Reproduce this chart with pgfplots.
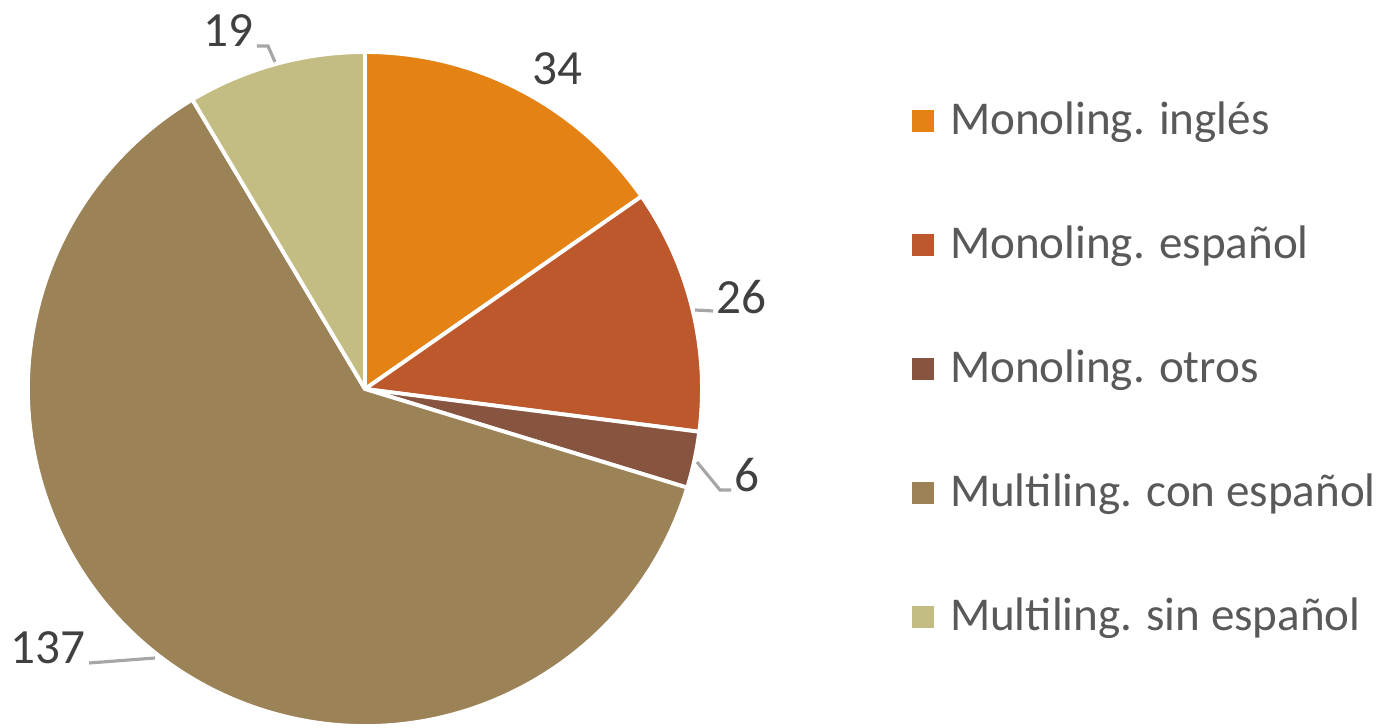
\documentclass[border=0pt]{standalone}
\usepackage{fontspec}
\setmainfont{Carlito}
\usepackage{pgfplots}
\usepackage{pgfplotstable}
\pgfplotsset{compat=1.18}

\definecolor{c0}{HTML}{E48213}
\definecolor{c1}{HTML}{BC582B}
\definecolor{c2}{HTML}{87553F}
\definecolor{c3}{HTML}{9C8257}
\definecolor{c4}{HTML}{C4BD83}
\definecolor{labeltext}{HTML}{404040}
\definecolor{legendtext}{HTML}{595959}
\definecolor{leader}{HTML}{A6A6A6}

% slices, clockwise from 12 o'clock
\pgfplotstableread[col sep=comma]{
name,value
Monoling. inglés,34
Monoling. español,26
Monoling. otros,6
Multiling. con español,137
Multiling. sin español,19
}\piedata

\begin{document}
\begin{tikzpicture}
\begin{axis}[
    width=13.82cm, height=7.27cm, scale only axis,
    xmin=0, xmax=1382, ymin=0, ymax=727,
    enlargelimits=false,
    hide axis, clip=false,
    legend style={
        at={(axis cs:912,627)}, anchor=north west,
        draw=none, fill=none, inner sep=0pt, outer sep=0pt,
        font=\fontsize{13.4}{15}\selectfont, text=legendtext,
        row sep=0.768cm,
        nodes={inner sep=0pt, text height=0.35cm, text depth=0.12cm},
    },
    legend cell align=left,
    legend image code/.code={
        \path[#1] (0cm,-0.09cm) rectangle (0.22cm,0.13cm);
        \path (0.38cm,0cm);
    },
]
% total of the values
\def\total{0}
\pgfplotsforeachungrouped \i in {0,...,4}{%
    \pgfplotstablegetelem{\i}{value}\of\piedata
    \pgfmathsetmacro\total{\total+\pgfplotsretval}%
}
% slices
\def\cum{0}
\pgfplotsforeachungrouped \i in {0,...,4}{%
    \pgfplotstablegetelem{\i}{value}\of\piedata
    \pgfmathsetmacro\a{90-\cum/\total*360}%
    \pgfmathsetmacro\cumnew{\cum+\pgfplotsretval}%
    \pgfmathsetmacro\b{90-\cumnew/\total*360}%
    \edef\temp{\noexpand\filldraw[fill=c\i, draw=white, line width=1.1pt, line join=round]
        (axis cs:365,338) -- ++(\a:3.37cm) arc[start angle=\a, end angle=\b, radius=3.37cm] -- cycle;}%
    \temp
    \let\cum\cumnew
}

% leader lines
\draw[leader, line width=0.9pt] (axis cs:257,681) -- (axis cs:268,681) -- (axis cs:275,665);
\draw[leader, line width=0.9pt] (axis cs:695,417) -- (axis cs:713,416);
\draw[leader, line width=0.9pt] (axis cs:697,265) -- (axis cs:720,237) -- (axis cs:731,237);
\draw[leader, line width=0.9pt] (axis cs:89,64) -- (axis cs:155,69);

% data labels
\begin{scope}[every node/.style={inner sep=0pt, text=labeltext, font=\fontsize{14}{16}\selectfont}]
\node at (axis cs:557,658) {34};
\node at (axis cs:741,430) {26};
\node at (axis cs:747,252) {6};
\node at (axis cs:48,79) {137};
\node at (axis cs:228,696) {19};
\end{scope}

\addlegendimage{fill=c0, draw=none}
\addlegendentry{Monoling. inglés}
\addlegendimage{fill=c1, draw=none}
\addlegendentry{Monoling. español}
\addlegendimage{fill=c2, draw=none}
\addlegendentry{Monoling. otros}
\addlegendimage{fill=c3, draw=none}
\addlegendentry{Multiling. con español}
\addlegendimage{fill=c4, draw=none}
\addlegendentry{Multiling. sin español}
\end{axis}
\pgfresetboundingbox
\path (current axis.south west) rectangle (current axis.north east);
\end{tikzpicture}
\end{document}
